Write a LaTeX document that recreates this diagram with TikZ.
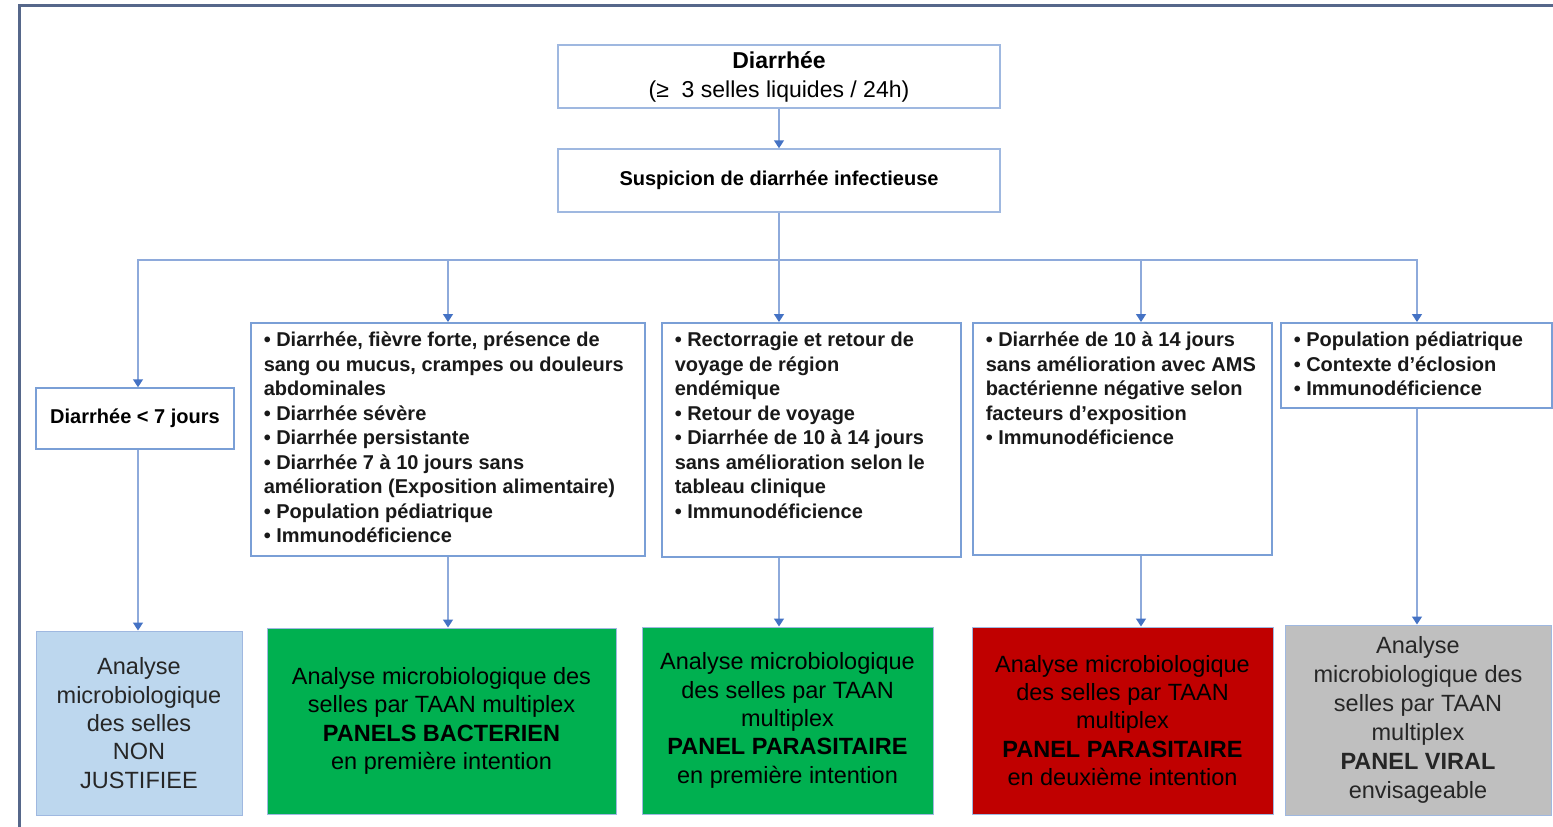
\documentclass[tikz,border=0pt]{standalone}
\usepackage{fontspec}
\setmainfont{Liberation Sans}
\usetikzlibrary{arrows.meta}
\definecolor{frameC}{HTML}{56678A}
\definecolor{lineC}{HTML}{8EAADB}
\definecolor{tipC}{HTML}{4472C4}
\definecolor{boxC}{HTML}{7A9FD6}
\definecolor{topC}{HTML}{9FB8E0}
\definecolor{lblue}{HTML}{BDD7EE}
\definecolor{dgreen}{HTML}{00B050}
\definecolor{dred}{HTML}{C00000}
\definecolor{lgray}{HTML}{BFBFBF}
\definecolor{txt}{HTML}{262626}
\newcommand\midtext[3]{\parbox[c][#2][t]{#1}{\raggedright\strut #3}}
\begin{document}
\begin{tikzpicture}[x=1pt,y=-1pt,
 conn/.style={draw=lineC, line width=1.5pt},
 arr/.style={conn, -{Triangle[length=8pt,width=10pt,color=tipC]}},
 topbox/.style={draw=topC, line width=1.5pt, fill=white, inner sep=0pt, align=center, text=black},
 midbox/.style={draw=boxC, line width=1.5pt, fill=white, inner xsep=13pt, inner ysep=7pt, anchor=north west, text=black!90, font=\fontsize{20}{24.5}\selectfont\bfseries},
 resbox/.style={draw=topC, line width=1pt, inner sep=0pt, align=center, font=\fontsize{23.5}{28.3}\selectfont},
]
\useasboundingbox (0,0) rectangle (1553,827);
\draw[frameC, line width=3pt, line join=miter] (19,827) -- (19,5) -- (1553,5);

\node[topbox, minimum width=442pt, minimum height=63pt, font=\fontsize{23}{29}\selectfont] (A) at (779,76.5)
  {{\bfseries Diarrhée}\\(≥~~3 selles liquides / 24h)};
\node[topbox, minimum width=442pt, minimum height=63pt, font=\fontsize{20}{24}\selectfont\bfseries] (B) at (779,180.5)
  {Suspicion de diarrhée infectieuse};

\node[topbox, draw=boxC, minimum width=198pt, minimum height=61pt, font=\fontsize{20}{24}\selectfont\bfseries] (C1) at (135,418.5)
  {Diarrhée < 7 jours};

\node[midbox] (C2) at (250,322) {\midtext{368pt}{219pt}{%
• Diarrhée, fièvre forte, présence de\\
sang ou mucus, crampes ou douleurs\\
abdominales\\
• Diarrhée sévère\\
• Diarrhée persistante\\
• Diarrhée 7 à 10 jours sans\\
amélioration (Exposition alimentaire)\\
• Population pédiatrique\\
• Immunodéficience}};

\node[midbox] (C3) at (661,322) {\midtext{273pt}{220pt}{%
• Rectorragie et retour de\\
voyage de région\\
endémique\\
• Retour de voyage\\
• Diarrhée de 10 à 14 jours\\
sans amélioration selon le\\
tableau clinique\\
• Immunodéficience}};

\node[midbox] (C4) at (972,322) {\midtext{273pt}{218pt}{%
• Diarrhée de 10 à 14 jours\\
sans amélioration avec AMS\\
bactérienne négative selon\\
facteurs d'exposition\\
• Immunodéficience}};

\node[midbox] (C5) at (1280,322) {\midtext{245pt}{71pt}{%
• Population pédiatrique\\
• Contexte d’éclosion\\
• Immunodéficience}};

\node[resbox, fill=lblue, text=txt, minimum width=206pt, minimum height=184pt] (D1) at (139,723)
  {Analyse\\microbiologique\\des selles\\NON\\JUSTIFIEE};
\node[resbox, fill=dgreen, text=black, minimum width=349pt, minimum height=186pt] (D2) at (441.5,721)
  {Analyse microbiologique des\\selles par TAAN multiplex\\{\bfseries PANELS BACTERIEN}\\en première intention};
\node[resbox, fill=dgreen, text=black, minimum width=291pt, minimum height=187pt] (D3) at (787.5,720.5)
  {Analyse microbiologique\\des selles par TAAN\\multiplex\\{\bfseries PANEL PARASITAIRE}\\en première intention};
\node[resbox, fill=dred, text=black, minimum width=301pt, minimum height=187pt] (D4) at (1122.5,720.5)
  {Analyse microbiologique\\des selles par TAAN\\multiplex\\{\bfseries PANEL PARASITAIRE}\\en deuxième intention};
\node[resbox, fill=lgray, text=txt, minimum width=266pt, minimum height=190pt, font=\fontsize{23.5}{29}\selectfont] (D5) at (1418,720)
  {Analyse\\microbiologique des\\selles par TAAN\\multiplex\\{\bfseries PANEL VIRAL}\\envisageable};

\coordinate (hy) at (0,260);
\coordinate (hub) at (B.south |- hy);
\coordinate (x1) at (138,0);
\coordinate (x2) at (448,0);
\coordinate (x4) at (1141,0);
\coordinate (x5) at (1417,0);

\draw[arr] (A) -- (B);
\draw[conn] (B.south) -- (hub);
\draw[arr] (hub) -| (C1.north -| x1);
\draw[arr] (hub) -| (C2.north -| x2);
\draw[arr] (hub) -- (C3.north -| hub);
\draw[arr] (hub) -| (C4.north -| x4);
\draw[arr] (hub) -| (C5.north -| x5);

\draw[arr] (C1.south -| x1) -- (D1.north -| x1);
\draw[arr] (C2.south -| x2) -- (D2.north -| x2);
\draw[arr] (C3.south -| hub) -- (D3.north -| hub);
\draw[arr] (C4.south -| x4) -- (D4.north -| x4);
\draw[arr] (C5.south -| x5) -- (D5.north -| x5);
\end{tikzpicture}
\end{document}
